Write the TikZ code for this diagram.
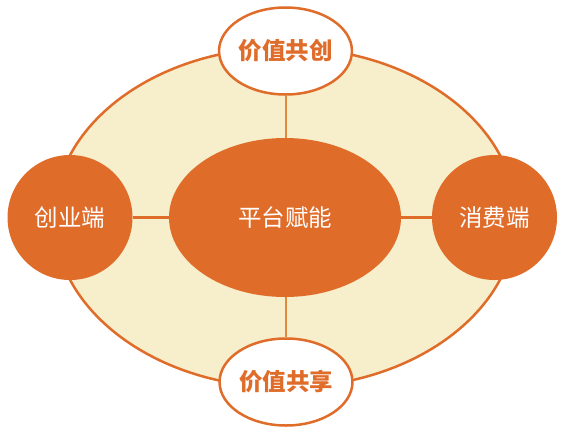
\documentclass[tikz,border=0pt]{standalone}
\usepackage{fontspec}
\newfontfamily\cjk{Noto Sans CJK SC}
\usetikzlibrary{shapes.geometric,backgrounds}
\definecolor{org}{HTML}{E06C2A}
\definecolor{lorg}{HTML}{E38A3A}
\definecolor{cream}{HTML}{F7EECB}
\begin{document}
\begin{tikzpicture}[x=1pt,y=-1pt,
  disc/.style={circle,fill=org,draw=none,minimum size=125pt,inner sep=0pt,text=white,font=\cjk\fontsize{23.5}{25}\selectfont},
  core/.style={ellipse,fill=org,draw=none,minimum width=232pt,minimum height=159pt,inner sep=0pt,text=white,font=\cjk\fontsize{23.5}{25}\selectfont},
  pill/.style={ellipse,fill=white,draw=org,line width=2.5pt,minimum width=128pt,minimum height=87pt,inner sep=0pt,text=org,font=\cjk\bfseries\fontsize{23.5}{25}\selectfont},
  rim/.style={ellipse,fill=cream,draw=org,line width=2.5pt,minimum width=462pt,minimum height=340pt,inner sep=0pt},
  hlink/.style={draw=org,line width=3pt},
  vlink/.style={draw=lorg,line width=2pt}]
\useasboundingbox (0,0) rectangle (576,432);
\node[core] (core) at (285,217.5) {平台赋能};
\node[disc] (left) at (70,217.5) {创业端};
\node[disc] (right) at (494.5,217.5) {消费端};
\node[pill] (top) at (285.5,51) {价值共创};
\node[pill] (bot) at (286,382) {价值共享};
\begin{scope}[on background layer]
\node[rim] (outer) at (285,217.5) {};
\path[hlink] (left.east) -- (core.west);
\path[hlink] (core.east) -- (right.west);
\path[vlink] (top.south) -- (top.south |- core.north);
\path[vlink] (bot.north) -- (bot.north |- core.south);
\end{scope}
\end{tikzpicture}
\end{document}
